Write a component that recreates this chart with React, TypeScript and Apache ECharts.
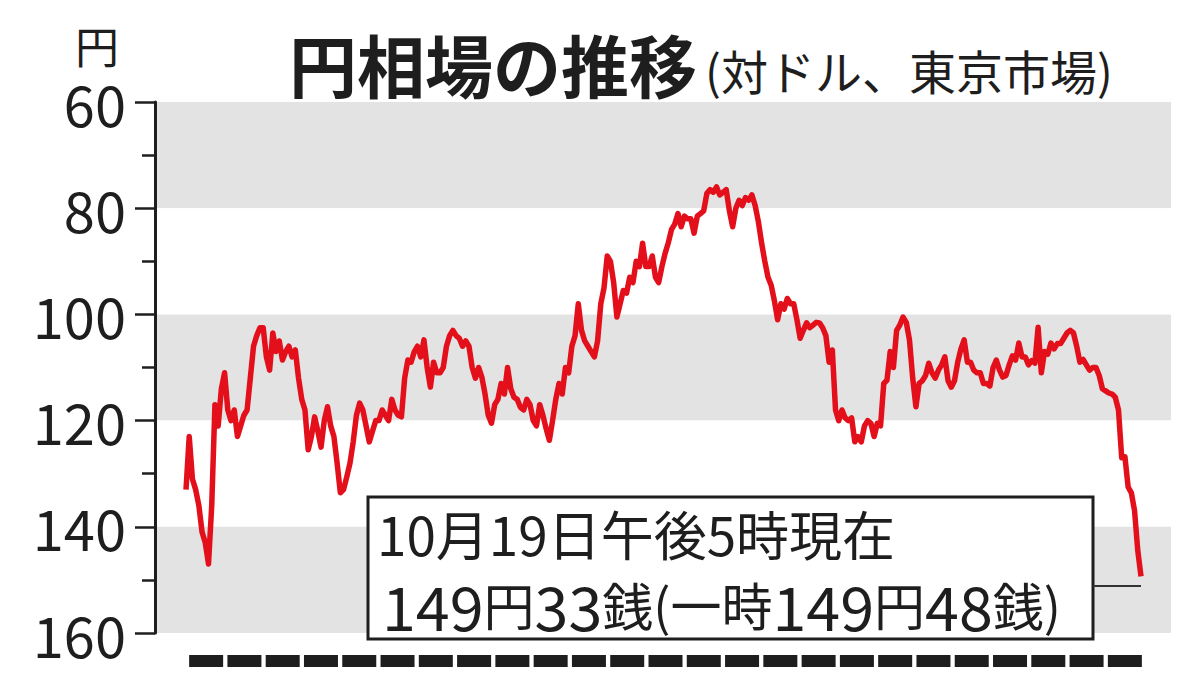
import React, { useEffect, useRef } from "react";
import * as echarts from "echarts";

// ---- data ----
const years = [
  1998, 1999, 2000, 2001, 2002, 2003, 2004, 2005, 2006, 2007, 2008, 2009, 2010,
  2011, 2012, 2013, 2014, 2015, 2016, 2017, 2018, 2019, 2020, 2021, 2022,
];

// monthly USD/JPY (Tokyo), Jan 1998 – Oct 2022
const monthlyRates = [
  // 1998
  133, 123, 131, 133, 136, 141, 143, 147, 136, 117, 121, 114,
  // 1999
  111, 118, 120, 118, 123, 121, 119, 118, 112, 106, 104, 102.5,
  // 2000
  102.5, 108, 110.5, 103.5, 107, 105, 108.6, 107, 106, 108, 106.7, 112,
  // 2001
  116, 118, 125.5, 123, 119.3, 122, 125, 120, 117.4, 121, 123, 128,
  // 2002
  133.6, 133, 130.6, 128, 124, 119, 116.7, 118, 121, 124, 122, 120,
  // 2003
  120, 118, 119, 120, 116, 118, 119, 119.3, 112, 108.6, 109, 107,
  // 2004
  106, 108, 104.8, 110, 113.7, 109, 111, 111, 110, 106, 104, 103,
  // 2005
  104, 104.5, 106, 105, 106, 110, 112, 110, 111.8, 115, 119, 120.5,
  // 2006
  117, 116, 113, 115, 110, 114, 115.6, 116, 117.5, 118, 116, 117,
  // 2007
  120, 121, 117, 119, 121.5, 123.7, 120, 116, 113, 115, 110, 111,
  // 2008
  106, 104, 98, 103, 105, 106, 107, 108, 105, 98, 95, 89,
  // 2009
  90, 94, 100.5, 98, 95.5, 96, 93, 94, 90, 91, 86.6, 91,
  // 2010
  91, 89, 93, 94, 91, 88.5, 86.5, 84, 83, 81, 83.5, 81.5,
  // 2011
  82, 82, 84.7, 81.5, 81, 80.5, 77.2, 76.5, 77, 76, 77.5, 77,
  // 2012
  76.5, 80.5, 83.5, 80, 78.5, 79.5, 78, 78.5, 77.5, 79.5, 82.5, 86.5,
  // 2013
  90, 93, 94.5, 97.5, 101, 98, 99, 97, 98, 98, 101, 104.5,
  // 2014
  103, 101.6, 102.5, 102, 101.5, 101.6, 102.5, 104, 109, 106.7, 118, 120,
  // 2015
  118, 119.5, 120, 119.5, 124, 123, 124, 121, 120, 120.5, 123, 120.5,
  // 2016
  121, 113, 112.4, 107, 110, 103, 102, 100.5, 101.5, 104.8, 112, 117.4,
  // 2017
  113, 112.5, 111.5, 109.2, 111, 112, 110.5, 109.5, 108, 112.5, 113.7, 112.5,
  // 2018
  109, 106.5, 104.8, 109, 109, 110.5, 111, 111, 113, 113, 113.5, 110,
  // 2019
  108.6, 110.5, 111.8, 111.5, 109.5, 107.8, 108.6, 105.4, 108, 108, 109.5, 108.7,
  // 2020
  109.2, 102.4, 111, 107, 107.5, 105.4, 106.5, 105.5, 105.5, 104.5, 103.5, 103,
  // 2021
  103.5, 106, 109, 108.5, 109.5, 110.5, 110, 110, 111.5, 114, 114.4, 114.8,
  // 2022
  115, 115.6, 118, 127, 126.8, 132.5, 133.6, 137, 144.5, 149.33,
];

const yMin = 60;
const yMax = 160;
const yInterval = 20;

const unitLabel = "円";
const titleText = "円相場の推移";
const subtitleText = "(対ドル、東京市場)";
const noteLine1 = "10月19日午後5時現在";
const noteLine2Rich =
  "{n|149}{k|円}{n|33}{k|銭(一時}{n|149}{k|円}{n|48}{k|銭)}";

const months = years
  .flatMap((y) => Array.from({ length: 12 }, (_, i) => `${y}/${i + 1}`))
  .slice(0, monthlyRates.length);

const FONT = '"Noto Sans CJK JP", "Noto Sans", sans-serif';
const INK = "#1e1e1e";

export default function App() {
  const ref = useRef<HTMLDivElement>(null);

  useEffect(() => {
    if (!ref.current) return;
    const chart = echarts.init(ref.current, null, { renderer: "svg" });

    const option: any = {
      animation: false,
      backgroundColor: "#ffffff",
      grid: [
        // axis + bands
        { left: 155, right: 29, top: 102, height: 531, outerBoundsMode: "none", containLabel: false },
        // line
        { left: 186, right: 59, top: 102, height: 531, outerBoundsMode: "none", containLabel: false },
        // year dashes
        { left: 187, right: 56, top: 655, height: 12, outerBoundsMode: "none", containLabel: false },
      ],
      xAxis: [
        { gridIndex: 0, type: "value", min: 0, max: 1, show: false },
        { gridIndex: 1, type: "category", data: months, boundaryGap: false, show: false },
        { gridIndex: 2, type: "category", data: years, show: false },
      ],
      yAxis: [
        {
          gridIndex: 0,
          type: "value",
          inverse: true,
          min: yMin,
          max: yMax,
          interval: yInterval,
          axisLine: { show: true, lineStyle: { color: INK, width: 3 } },
          axisTick: { show: true, length: 20, lineStyle: { color: INK, width: 2.5 } },
          minorTick: { show: true, splitNumber: 2, length: 13, lineStyle: { color: INK, width: 2.5 } },
          axisLabel: {
            margin: 29,
            fontSize: 56,
            lineHeight: 56,
            fontFamily: FONT,
            color: INK,
          },
          splitLine: { show: false },
          minorSplitLine: { show: false },
          splitArea: {
            show: true,
            areaStyle: { color: ["#e3e3e3", "#ffffff"] },
          },
        },
        { gridIndex: 1, type: "value", inverse: true, min: yMin, max: yMax, show: false },
        { gridIndex: 2, type: "value", min: 0, max: 1, show: false },
      ],
      series: [
        {
          type: "line",
          xAxisIndex: 1,
          yAxisIndex: 1,
          data: monthlyRates,
          showSymbol: false,
          symbol: "none",
          lineStyle: { color: "#e3101b", width: 5.5, join: "round" },
          z: 5,
        },
        {
          type: "bar",
          xAxisIndex: 2,
          yAxisIndex: 2,
          data: years.map(() => 1),
          barWidth: 34,
          itemStyle: { color: INK },
        },
      ],
      graphic: [
        {
          type: "text",
          x: 97,
          y: 45,
          style: {
            text: unitLabel,
            fontSize: 44,
            lineHeight: 44,
            fontFamily: FONT,
            fill: INK,
            align: "center",
            verticalAlign: "middle",
          },
        },
        {
          type: "text",
          x: 289,
          y: 63,
          style: {
            text: titleText,
            fontSize: 68,
            fontWeight: "bold",
            fontFamily: FONT,
            fill: INK,
            align: "left",
            verticalAlign: "middle",
          },
        },
        {
          type: "text",
          x: 705,
          y: 69,
          style: {
            text: subtitleText,
            fontSize: 47,
            fontFamily: FONT,
            fill: INK,
            align: "left",
            verticalAlign: "middle",
          },
        },
        {
          type: "rect",
          z: 100,
          shape: { x: 368, y: 497, width: 725, height: 142 },
          style: { fill: "#ffffff", stroke: INK, lineWidth: 3 },
        },
        {
          type: "text",
          z: 101,
          x: 377,
          y: 533,
          style: {
            text: noteLine1,
            fontSize: 53,
            lineHeight: 53,
            fontFamily: FONT,
            fill: INK,
            align: "left",
            verticalAlign: "middle",
          },
        },
        {
          type: "text",
          z: 101,
          x: 382,
          y: 604,
          style: {
            text: noteLine2Rich,
            fontFamily: FONT,
            fill: INK,
            align: "left",
            verticalAlign: "middle",
            rich: {
              n: { fontSize: 61, lineHeight: 58, fontFamily: FONT, fill: INK },
              k: { fontSize: 51, lineHeight: 58, fontFamily: FONT, fill: INK },
            },
          },
        },
        {
          type: "line",
          z: 101,
          shape: { x1: 1093, y1: 586, x2: 1141, y2: 586 },
          style: { stroke: "#333333", lineWidth: 2 },
        },
      ],
    };

    chart.setOption(option);
    return () => chart.dispose();
  }, []);

  return (
    <div
      ref={ref}
      style={{ position: "fixed", left: 0, top: 0, width: 1200, height: 675 }}
    />
  );
}
